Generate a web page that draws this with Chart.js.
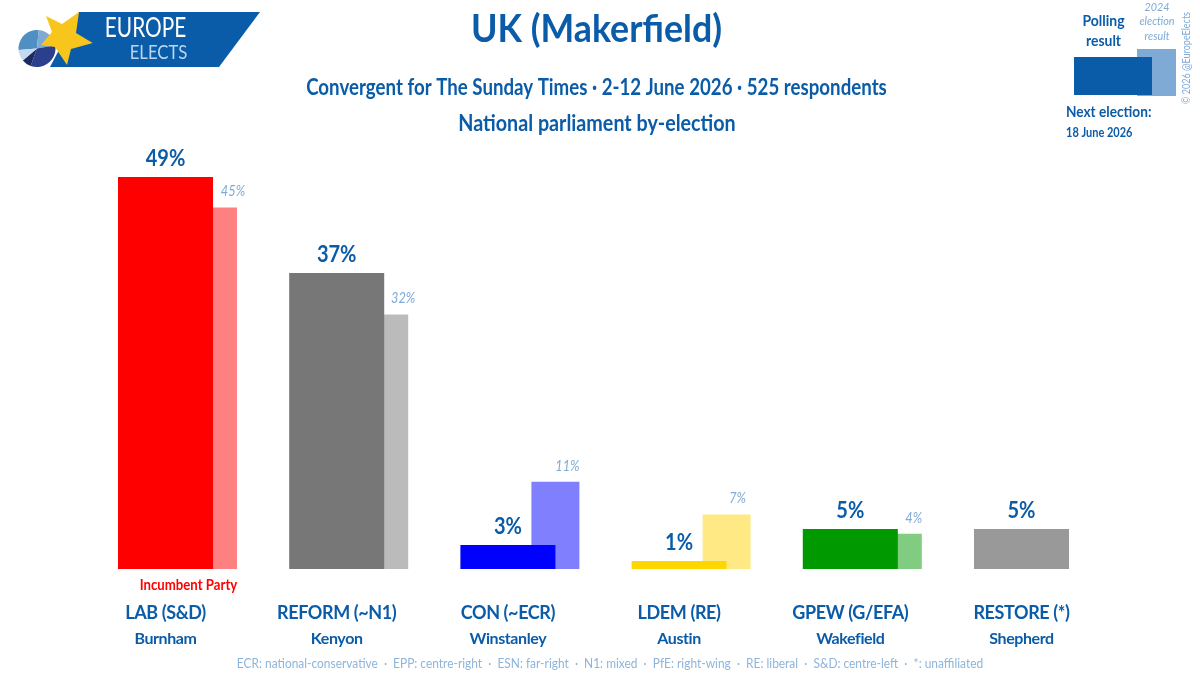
<!DOCTYPE html>
<html><head><meta charset="utf-8">
<style>html,body{margin:0;padding:0;background:#fff}#wrap{width:1200px;height:675px}</style>
<script src="https://cdn.jsdelivr.net/npm/chart.js@4"></script>
</head><body><div id="wrap"><canvas id="c" width="1200" height="675"></canvas></div>
<script>
const parties = ["LAB (S&D)", "REFORM (~N1)", "CON (~ECR)", "LDEM (RE)", "GPEW (G/EFA)", "RESTORE (*)"];
const candidates = ["Burnham", "Kenyon", "Winstanley", "Austin", "Wakefield", "Shepherd"];
const pollValues = [49, 37, 3, 1, 5, 5];
const resultValues = [45.2, 31.8, 10.9, 6.8, 4.4, null];
const pollColors = ["#FF0000", "#777777", "#0000FF", "#FFD700", "#009900", "#999999"];
const resultColors = ["#FF8080", "#BBBBBB", "#8080FF", "#FFE985", "#80CC80", "#CCCCCC"];

const FONT = '"Lato",sans-serif';
const BLUE = "#0A5CA8", PALE = "#7FAAD6";

function txt(ctx, s, x, y, font, color, align, condense) {
  ctx.font = font + " " + FONT; ctx.fillStyle = color;
  ctx.textAlign = align || "center"; ctx.textBaseline = "middle";
  ctx.fillText(s, x, y, ctx.measureText(s).width * (condense || 1));
}
function poly(ctx, pts, color) {
  ctx.beginPath(); pts.forEach((p, i) => i ? ctx.lineTo(p[0], p[1]) : ctx.moveTo(p[0], p[1]));
  ctx.closePath(); ctx.fillStyle = color; ctx.fill();
}
function slice(ctx, cx, cy, r, a0, a1, color) {
  ctx.beginPath(); ctx.moveTo(cx, cy); ctx.arc(cx, cy, r, a0 * Math.PI / 180, a1 * Math.PI / 180);
  ctx.closePath(); ctx.fillStyle = color; ctx.fill();
}

const decor = {
  id: "decor",
  beforeDraw(chart) { chart.ctx.letterSpacing = "-0.4px"; },
  beforeDatasetsDraw(chart) { chart.ctx.letterSpacing = "0px"; },
  afterDatasetsDraw(chart) {
    const ctx = chart.ctx; ctx.save();
    // value labels
    const nudge = [20, 19, 12, 11, 16, 0];
    chart.getDatasetMeta(0).data.forEach((el, i) => {
      txt(ctx, pollValues[i] + "%", el.x, el.y - 18, "bold 23px", BLUE, "center", 0.87);
    });
    chart.getDatasetMeta(1).data.forEach((el, i) => {
      if (resultValues[i] === null) return;
      txt(ctx, Math.round(resultValues[i]) + "%", el.x + nudge[i], el.y - 16, "italic 15px", PALE, "center", 0.85);
    });
    // heading
    txt(ctx, "UK (Makerfield)", 596.5, 30, "bold 38px", BLUE, "center", 0.94);
    txt(ctx, "Convergent for The Sunday Times · 2-12 June 2026 · 525 respondents", 596.5, 88, "bold 22px", BLUE, "center", 0.85);
    txt(ctx, "National parliament by-election", 597, 124, "bold 22px", BLUE, "center", 0.896);
    txt(ctx, "Incumbent Party", 188.5, 585, "bold 15px", "#FF0000", "center", 0.88);
    txt(ctx, "ECR: national-conservative  ·  EPP: centre-right  ·  ESN: far-right  ·  N1: mixed  ·  PfE: right-wing  ·  RE: liberal  ·  S&D: centre-left  ·  *: unaffiliated", 610, 664, "12.5px", "#8DB5DB", "center", 0.954);
    // key
    ctx.fillStyle = "#7FAAD6"; ctx.fillRect(1137, 49, 39, 47);
    ctx.fillStyle = "#0A5CA8"; ctx.fillRect(1074, 57, 78, 38);
    txt(ctx, "Polling", 1103.5, 21, "bold 15px", BLUE, "center", 0.93);
    txt(ctx, "result", 1103.5, 41, "bold 15px", BLUE, "center", 0.93);
    txt(ctx, "2024", 1157, 7, "italic 12px", PALE, "center", 0.9);
    txt(ctx, "election", 1157, 21, "italic 12px", PALE, "center", 0.9);
    txt(ctx, "result", 1157, 36, "italic 12px", PALE, "center", 0.9);
    txt(ctx, "Next election:", 1066, 112, "bold 15px", BLUE, "left", 0.91);
    txt(ctx, "18 June 2026", 1066, 133, "bold 12.5px", BLUE, "left", 0.88);
    ctx.save(); ctx.translate(1186, 58); ctx.rotate(-Math.PI / 2);
    txt(ctx, "© 2026 @EuropeElects", 0, 0, "11px", PALE, "center", 0.82); ctx.restore();
    // logo
    poly(ctx, [[79, 12], [260, 12], [219, 67], [50, 67]], "#0A5CA8");
    const cx = 37, cy = 48.5, r = 18.5;
    slice(ctx, cx, cy, r, 175, 275, "#4E8FC4");
    slice(ctx, cx, cy, r, 275, 350, "#7FAAD6");
    slice(ctx, cx, cy, r, 350, 470, "#2B3F8C");
    slice(ctx, cx, cy, r, 110, 140, "#1B2A63");
    slice(ctx, cx, cy, r, 140, 175, "#C5D8EE");
    poly(ctx, [[46, 16], [62, 24], [79, 12], [76, 33], [92.7, 43], [71, 49], [67, 65], [55, 47], [41, 45], [52, 32]], "#F8C51C");
    txt(ctx, "EUROPE", 145.5, 29, "26px", "#FFFFFF", "center", 0.8);
    txt(ctx, "ELECTS", 158.5, 53, "19px", "#BBD6F2", "center", 0.88);
    ctx.restore();
  }
};

new Chart(document.getElementById("c"), {
  type: "bar",
  data: {
    labels: parties,
    datasets: [
      { label: "Polling result", data: pollValues, backgroundColor: pollColors, order: 1, categoryPercentage: 0.555, barPercentage: 2 },
      { label: "2024 election result", data: resultValues, backgroundColor: resultColors, order: 2, categoryPercentage: 0.555, barPercentage: 1.01 }
    ]
  },
  options: {
    responsive: false, animation: false,
    layout: { padding: { left: 103.65, right: 69.15, top: 89, bottom: 0 } },
    plugins: { legend: { display: false }, title: { display: false }, tooltip: { enabled: false } },
    scales: {
      y: { display: false, min: 0, max: 60 },
      x: {
        position: "bottom", offset: true,
        grid: { display: false, drawTicks: false }, border: { display: false },
        ticks: { color: BLUE, font: { family: FONT, size: 18, weight: "bold" }, padding: 33, labelOffset: -23.75, maxRotation: 0, autoSkip: false },
        afterFit(s) { s.height = 56; }
      },
      x2: {
        position: "bottom", offset: true, type: "category", labels: candidates,
        grid: { display: false, drawTicks: false }, border: { display: false },
        ticks: { color: BLUE, font: { family: FONT, size: 16, weight: "bold" }, padding: 4, labelOffset: -23.75, maxRotation: 0, autoSkip: false },
        afterFit(s) { s.height = 50; }
      }
    }
  },
  plugins: [decor]
});
</script></body></html>
